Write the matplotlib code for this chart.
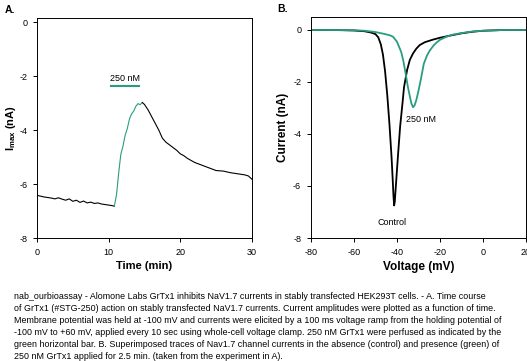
import matplotlib
matplotlib.use("Agg")
import matplotlib.pyplot as plt

plt.rcParams['font.family'] = ['Liberation Sans', 'DejaVu Sans']
plt.rcParams['mathtext.fontset'] = 'custom'
plt.rcParams['mathtext.rm'] = 'Liberation Sans'
plt.rcParams['mathtext.bf'] = 'Liberation Sans:bold'
plt.rcParams['axes.unicode_minus'] = False

green = '#2a9d80'

# Panel A: peak current vs time (min)
t_pre = [0, 0.5, 1, 1.5, 2, 2.5, 3, 3.5, 4, 4.5, 5, 5.5, 6, 6.5, 7, 7.5, 8, 8.5, 9, 9.5, 10, 10.5, 10.8]
i_pre = [-6.42, -6.45, -6.48, -6.50, -6.52, -6.55, -6.51, -6.56, -6.60, -6.55, -6.64, -6.60, -6.68, -6.63,
         -6.70, -6.67, -6.72, -6.70, -6.74, -6.76, -6.78, -6.80, -6.82]
t_drug = [10.8, 11.1, 11.4, 11.7, 12.0, 12.3, 12.6, 12.9, 13.2, 13.5, 13.8, 14.1, 14.4, 14.7]
i_drug = [-6.82, -6.4, -5.6, -4.9, -4.6, -4.2, -3.95, -3.6, -3.4, -3.3, -3.12, -3.02, -3.06, -2.98]
t_wash = [14.7, 15.0, 15.5, 16, 16.5, 17, 17.5, 18, 18.5, 19, 19.5, 20, 20.5, 21, 22, 23, 24, 25, 26, 27,
          28, 29, 29.5, 30]
i_wash = [-2.98, -3.05, -3.25, -3.5, -3.75, -4.0, -4.3, -4.45, -4.55, -4.65, -4.75, -4.88, -4.95, -5.05,
          -5.2, -5.3, -5.4, -5.5, -5.52, -5.58, -5.62, -5.66, -5.7, -5.82]
bar_t = [10.4, 14.2]
bar_i = -2.38

# Panel B: current vs voltage ramp
v_ctrl = [-80, -70, -60, -55, -52, -50, -48.7, -47.5, -46.5, -45.5, -44.5, -43.5, -42.5, -42, -41.6, -41.3,
          -41, -40.5, -40, -39.4, -38.5, -37.4, -36.7, -35.3, -34, -32.5, -31, -29.4, -27, -23.2, -20,
          -15.5, -10, -5, 0, 10, 20]
i_ctrl = [0, 0, -0.02, -0.05, -0.1, -0.16, -0.28, -0.55, -0.95, -1.6, -2.5, -3.6, -4.9, -5.7, -6.4, -6.75,
          -6.6, -6.0, -5.4, -4.7, -3.7, -2.8, -2.2, -1.55, -1.15, -0.9, -0.72, -0.58, -0.47, -0.37, -0.3,
          -0.22, -0.13, -0.07, -0.03, 0, 0]
v_gtx = [-80, -70, -60, -55, -50, -46, -43.5, -41.8, -40, -38, -37, -36, -35, -34, -33.3, -32.5, -31.8,
         -31, -30, -29, -27.5, -26, -24.8, -23, -21.5, -20, -17, -14, -10, -5, 0, 10, 20]
i_gtx = [0, 0, -0.01, -0.03, -0.08, -0.15, -0.2, -0.26, -0.45, -0.85, -1.2, -1.65, -2.15, -2.55, -2.82,
         -2.97, -2.9, -2.7, -2.35, -1.95, -1.3, -0.98, -0.8, -0.6, -0.48, -0.38, -0.26, -0.18, -0.12, -0.06,
         -0.03, 0, 0]

caption = ("nab_ourbioassay - Alomone Labs GrTx1 inhibits NaV1.7 currents in stably transfected HEK293T cells. - A. Time course\n"
           "of GrTx1 (#STG-250) action on stably transfected NaV1.7 currents. Current amplitudes were plotted as a function of time.\n"
           "Membrane potential was held at -100 mV and currents were elicited by a 100 ms voltage ramp from the holding potential of\n"
           "-100 mV to +60 mV, applied every 10 sec using whole-cell voltage clamp. 250 nM GrTx1 were perfused as indicated by the\n"
           "green horizontal bar. B. Superimposed traces of Nav1.7 channel currents in the absence (control) and presence (green) of\n"
           "250 nM GrTx1 applied for 2.5 min. (taken from the experiment in A).")

fig = plt.figure(figsize=(5.27, 3.61), dpi=100)
axA = fig.add_axes([0.0702, 0.3407, 0.4078, 0.6093])
axB = fig.add_axes([0.590, 0.3407, 0.408, 0.6123])

for ax in (axA, axB):
    ax.tick_params(direction='out', length=3, width=0.7, labelsize=6.5, pad=4)
    for s in ax.spines.values():
        s.set_linewidth(0.7)

# A
axA.plot(t_pre, i_pre, color='black', lw=0.8)
axA.plot(t_drug, i_drug, color=green, lw=0.8)
axA.plot(t_wash, i_wash, color='black', lw=0.8)
axA.plot(bar_t, [bar_i, bar_i], color=green, lw=1.5)
axA.text(sum(bar_t) / 2, bar_i + 0.12, '250 nM', ha='center', va='bottom', fontsize=6.5)
axA.set_xlim(0, 30)
axA.set_ylim(-8, 0.15)
axA.set_xticks([0, 10, 20, 30])
axA.set_yticks([0, -2, -4, -6, -8])
axA.set_xlabel('Time (min)', fontsize=8, fontweight='bold', labelpad=3)
axA.set_ylabel(r'I$_{\mathbf{max}}$ (nA)', fontsize=8, fontweight='bold', labelpad=1)

# B
axB.plot(v_ctrl, i_ctrl, color='black', lw=1.3)
axB.plot(v_gtx, i_gtx, color=green, lw=1.3)
axB.text(-36, -3.46, '250 nM', ha='left', va='center', fontsize=6.5)
axB.text(-42.4, -7.41, 'Control', ha='center', va='center', fontsize=6.5)
axB.set_xlim(-80, 20)
axB.set_ylim(-8, 0.5)
axB.set_xticks([-80, -60, -40, -20, 0, 20])
axB.set_yticks([0, -2, -4, -6, -8])
axB.set_xlabel('Voltage (mV)', fontsize=8.5, fontweight='bold', labelpad=3)
axB.set_ylabel('Current (nA)', fontsize=8.5, fontweight='bold', labelpad=3)

fig.text(0.009, 0.972, 'A.', fontsize=7.5, fontweight='bold', va='center')
fig.text(0.526, 0.975, 'B.', fontsize=7.5, fontweight='bold', va='center')

fig.text(0.027, 0.192, caption, fontsize=6.4, va='top', ha='left', linespacing=1.45)

fig.savefig('out.png', dpi=100)
